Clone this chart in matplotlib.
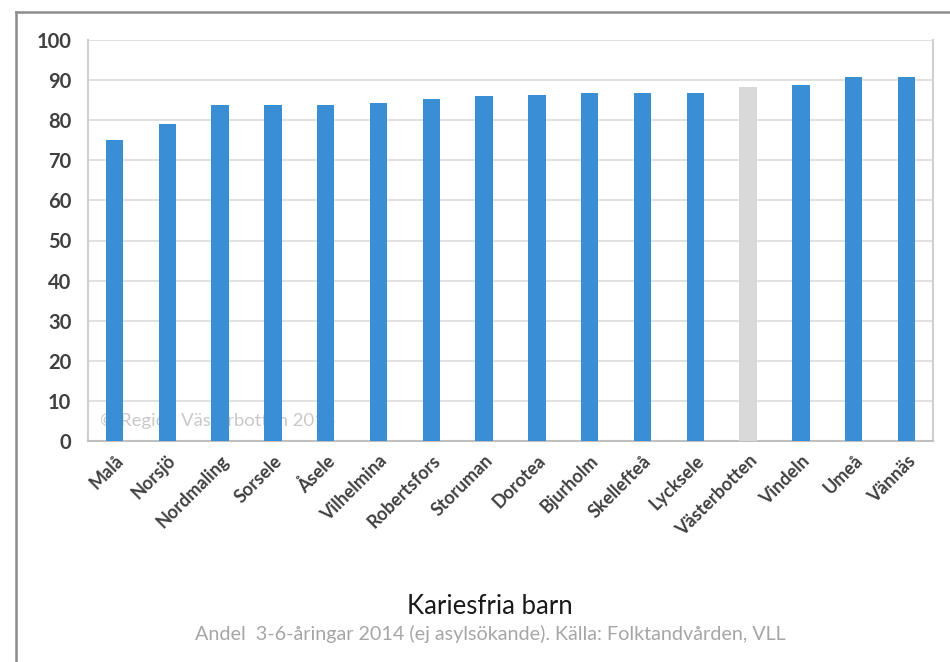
import matplotlib
matplotlib.use("Agg")
import matplotlib.pyplot as plt
from matplotlib.lines import Line2D

kommuner = ["Malå", "Norsjö", "Nordmaling", "Sorsele", "Åsele", "Vilhelmina",
            "Robertsfors", "Storuman", "Dorotea", "Bjurholm", "Skellefteå",
            "Lycksele", "Västerbotten", "Vindeln", "Umeå", "Vännäs"]
andel = [75.0, 79.0, 83.7, 83.7, 83.7, 84.4, 85.3, 86.1, 86.3, 86.7, 86.7,
         86.9, 88.2, 88.7, 90.7, 90.8]
yticks = list(range(0, 101, 10))

blue = "#3a8fd4"
grey_bar = "#d9d9d9"
colors = [grey_bar if k == "Västerbotten" else blue for k in kommuner]

plt.rcParams["font.family"] = ["Lato", "DejaVu Sans"]

fig = plt.figure(figsize=(9.5, 6.62), dpi=100)
ax = fig.add_axes([88 / 950, 1 - 441 / 662, 845 / 950, 401 / 662])

x = range(len(kommuner))
ax.bar(x, andel, width=0.33, color=colors, zorder=3)

ax.set_xlim(-0.5, len(kommuner) - 0.5)
ax.set_ylim(0, 100)
ax.set_yticks(yticks)
ax.set_yticklabels([str(t) for t in yticks], fontsize=14.5, fontweight="bold", color="#404040")
ax.set_xticks(list(x))
ax.set_xticklabels(kommuner, rotation=45, ha="right", rotation_mode="anchor",
                   fontsize=13, fontweight="bold", color="#404040")
ax.tick_params(axis="y", length=0, pad=12)
ax.tick_params(axis="x", length=0, pad=8)

ax.grid(axis="y", color="#dcdcdc", linewidth=1.2, zorder=0)
for side in ["left", "right", "bottom"]:
    ax.spines[side].set_color("#d0d0d0")
    ax.spines[side].set_linewidth(1.5)
ax.spines["bottom"].set_color("#bfbfbf")
ax.spines["top"].set_visible(False)

# watermark sits behind the bars
ax.text(0.014, 0.038, "© Region Västerbotten 2015", transform=ax.transAxes,
        fontsize=13.3, color="#c8c8c8", zorder=1)

fig.text(490 / 950, 1 - 606 / 662, "Kariesfria barn", ha="center", va="center",
         fontsize=18.5, color="#1a1a1a")
fig.text(490 / 950, 1 - 634 / 662,
         "Andel  3-6-åringar 2014 (ej asylsökande). Källa: Folktandvården, VLL",
         ha="center", va="center", fontsize=14.2, color="#a6a6a6")

# outer frame (left and top edges)
fig.add_artist(Line2D([16 / 950, 16 / 950], [0, 1 - 12 / 662], transform=fig.transFigure,
                      color="#8c8c8c", linewidth=1.8))
fig.add_artist(Line2D([16 / 950, 1], [1 - 12 / 662, 1 - 12 / 662], transform=fig.transFigure,
                      color="#8c8c8c", linewidth=1.8))

fig.savefig("out.png", dpi=100)
